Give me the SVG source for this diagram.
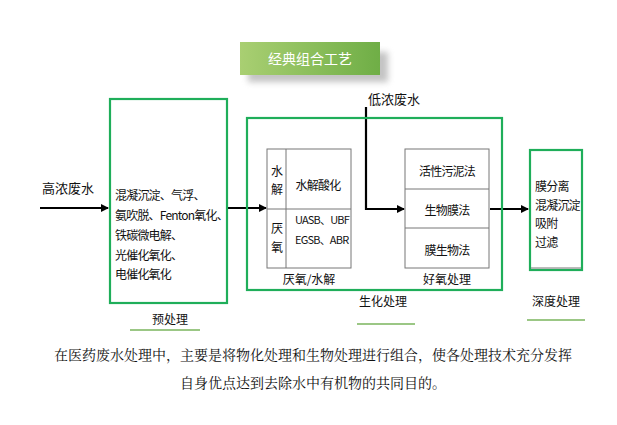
<svg xmlns="http://www.w3.org/2000/svg" width="617" height="425" viewBox="0 0 617 425">
<style>
text{font-family:"Noto Sans CJK SC","Liberation Sans",sans-serif;fill:#111;font-size:12px}
.n{letter-spacing:-0.8px}
.g{fill:none;stroke:#1fae5a;stroke-width:2.2}
.t{fill:#fff;stroke:#777;stroke-width:1}
.l{stroke:#777;stroke-width:1}
.u{stroke:#7ab55c;stroke-width:1.5}
.a{stroke:#000;stroke-width:2.2;fill:none}
.c{text-anchor:middle}
</style>
<defs>
<marker id="ar" markerWidth="8" markerHeight="8" refX="7" refY="4" orient="auto" markerUnits="userSpaceOnUse"><path d="M0,0 L8,4 L0,8z" fill="#000"/></marker>
<linearGradient id="tg" x1="0" x2="1"><stop offset="0" stop-color="#a9cf72"/><stop offset="1" stop-color="#6fae46"/></linearGradient>
<filter id="sh" x="-20%" y="-20%" width="140%" height="160%"><feGaussianBlur stdDeviation="3"/></filter>
</defs>
<rect width="617" height="425" fill="#fff"/>
<g id="title">
<rect x="248" y="52" width="140" height="30" fill="#888" opacity="0.5" filter="url(#sh)"/>
<rect x="240" y="42" width="140" height="33" fill="url(#tg)"/>
<text x="310" y="64" class="c" style="fill:#fff;font-size:14px">经典组合工艺</text>
</g>
<g id="connectors">
<line x1="40" y1="208" x2="108" y2="208" class="a" marker-end="url(#ar)"/>
<line x1="228" y1="208" x2="266" y2="208" class="a" marker-end="url(#ar)"/>
<polyline points="366,107 366,209 404,209" class="a" marker-end="url(#ar)"/>
<line x1="490" y1="209" x2="528" y2="209" class="a" marker-end="url(#ar)"/>
</g>
<g id="input-high"><text x="42" y="193" style="font-size:13px">高浓废水</text></g>
<g id="input-low"><text x="368" y="104" style="font-size:13px">低浓废水</text></g>
<g id="pretreat">
<rect x="110" y="99" width="117" height="204" class="g"/>
<text x="115" y="200" class="n">混凝沉淀、气浮、</text>
<text x="115" y="220" class="n">氨吹脱、Fenton氧化、</text>
<text x="115" y="240" class="n">铁碳微电解、</text>
<text x="115" y="260" class="n">光催化氧化、</text>
<text x="115" y="279" class="n">电催化氧化</text>
<text x="170" y="324" class="c">预处理</text>
<line x1="130" y1="330" x2="200" y2="330" class="u"/>
</g>
<g id="biochem">
<rect x="247" y="118" width="255" height="172" class="g"/>
<text x="383" y="306" class="c">生化处理</text>
<line x1="357" y1="324" x2="415" y2="324" class="u"/>
</g>
<g id="anaerobic">
<rect x="267" y="149" width="84" height="119" class="t"/>
<line x1="286" y1="149" x2="286" y2="268" class="l"/>
<line x1="267" y1="209" x2="351" y2="209" class="l"/>
<text x="277" y="176" class="c">水</text>
<text x="277" y="194" class="c">解</text>
<text x="318" y="190" class="c n">水解酸化</text>
<text x="277" y="233" class="c">厌</text>
<text x="277" y="252" class="c">氧</text>
<text x="295" y="224" class="n" style="font-size:11px">UASB、UBF</text>
<text x="295" y="244" class="n" style="font-size:11px">EGSB、ABR</text>
<text x="309" y="284" class="c">厌氧/水解</text>
</g>
<g id="aerobic">
<rect x="405" y="149" width="84" height="119" class="t"/>
<line x1="405" y1="189" x2="489" y2="189" class="l"/>
<line x1="405" y1="228" x2="489" y2="228" class="l"/>
<text x="447" y="176" class="c n">活性污泥法</text>
<text x="447" y="215" class="c n">生物膜法</text>
<text x="447" y="255" class="c n">膜生物法</text>
<text x="447" y="284" class="c">好氧处理</text>
</g>
<g id="advanced">
<rect x="530" y="150" width="52" height="120" class="g"/>
<line x1="531" y1="268" x2="581" y2="268" class="l"/>
<text x="535" y="191" class="n">膜分离</text>
<text x="535" y="210" class="n">混凝沉淀</text>
<text x="535" y="228" class="n">吸附</text>
<text x="535" y="247" class="n">过滤</text>
<text x="556" y="306" class="c">深度处理</text>
<line x1="527" y1="320" x2="585" y2="320" class="u"/>
</g>
<g id="caption">
<text x="313" y="360" class="c" style="font-size:14px;font-family:'Noto Serif CJK SC','Noto Sans CJK SC',serif">在医药废水处理中，主要是将物化处理和生物处理进行组合，使各处理技术充分发挥</text>
<text x="313" y="388" class="c" style="font-size:14px;font-family:'Noto Serif CJK SC','Noto Sans CJK SC',serif">自身优点达到去除水中有机物的共同目的。</text>
</g>
</svg>
